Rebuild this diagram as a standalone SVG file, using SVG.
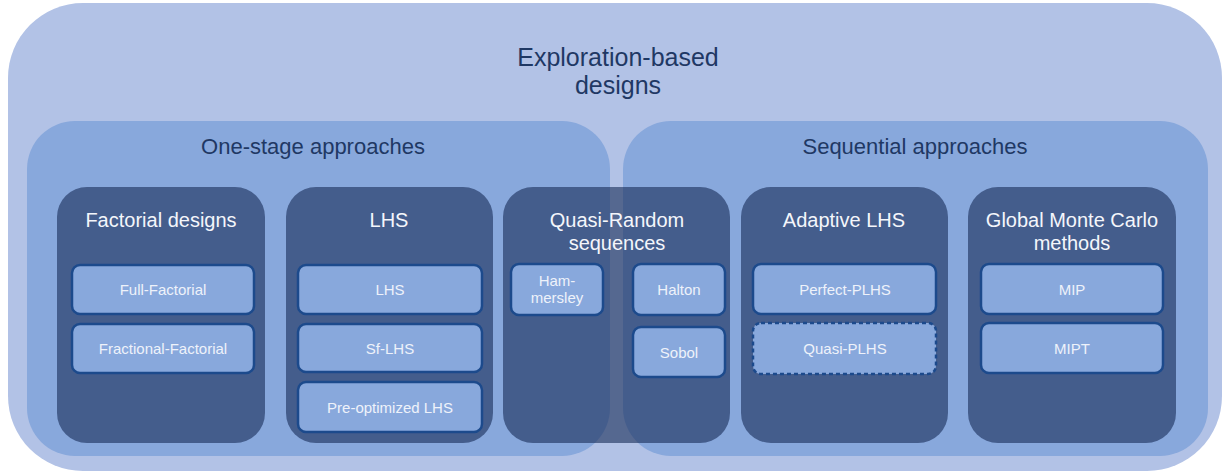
<svg xmlns="http://www.w3.org/2000/svg" width="1225" height="476" viewBox="0 0 1225 476">
  <style>
    text { font-family: "Liberation Sans", Arial, sans-serif; text-anchor: middle; }
    .outer { fill: #b2c2e6; }
    .stage { fill: #88a8dc; }
    .group { fill: #182b57; fill-opacity: 0.6; }
    .item { fill: #88a8dc; stroke: #1c4a8c; stroke-width: 2.5; }
    .dashed { stroke-dasharray: 4 3; }
    .t-main { font-size: 25px; fill: #1f3864; }
    .t-stage { font-size: 22px; fill: #1f3864; }
    .t-group { font-size: 20px; fill: #f4f6fb; }
    .t-item { font-size: 15px; fill: #eef2fa; }
  </style>

  <!-- outermost container -->
  <g id="exploration">
    <rect class="outer" x="8" y="3" width="1214" height="468" rx="75"/>
    <text class="t-main" x="618" y="66">Exploration-based</text>
    <text class="t-main" x="618" y="94">designs</text>
  </g>

  <!-- approach families -->
  <g id="one-stage">
    <rect class="stage" x="27" y="121" width="583" height="335" rx="48"/>
    <text class="t-stage" x="313" y="154">One-stage approaches</text>
  </g>
  <g id="sequential">
    <rect class="stage" x="623" y="121" width="585" height="335" rx="48"/>
    <text class="t-stage" x="915" y="154">Sequential approaches</text>
  </g>

  <!-- method groups -->
  <g id="factorial">
    <rect class="group" x="57" y="187" width="208" height="256" rx="30"/>
    <text class="t-group" x="161" y="227">Factorial designs</text>
    <g id="full-factorial">
      <rect class="item" x="72" y="265" width="182" height="49" rx="8"/>
      <text class="t-item" x="163" y="295">Full-Factorial</text>
    </g>
    <g id="fractional-factorial">
      <rect class="item" x="72" y="324" width="182" height="49" rx="8"/>
      <text class="t-item" x="163" y="354">Fractional-Factorial</text>
    </g>
  </g>

  <g id="lhs">
    <rect class="group" x="286" y="187" width="207" height="256" rx="30"/>
    <text class="t-group" x="389" y="227">LHS</text>
    <g id="lhs-basic">
      <rect class="item" x="298" y="265" width="184" height="49" rx="8"/>
      <text class="t-item" x="390" y="295">LHS</text>
    </g>
    <g id="sf-lhs">
      <rect class="item" x="298" y="324" width="184" height="48" rx="8"/>
      <text class="t-item" x="390" y="354">Sf-LHS</text>
    </g>
    <g id="pre-optimized-lhs">
      <rect class="item" x="298" y="382" width="184" height="50" rx="8"/>
      <text class="t-item" x="390" y="413">Pre-optimized LHS</text>
    </g>
  </g>

  <g id="quasi-random">
    <rect class="group" x="503" y="187" width="227" height="256" rx="30"/>
    <text class="t-group" x="617" y="227">Quasi-Random</text>
    <text class="t-group" x="617" y="250">sequences</text>
    <g id="hammersley">
      <rect class="item" x="511" y="264" width="92" height="51" rx="8"/>
      <text class="t-item" x="557" y="286">Ham-</text>
      <text class="t-item" x="557" y="303">mersley</text>
    </g>
    <g id="halton">
      <rect class="item" x="633" y="264" width="92" height="51" rx="8"/>
      <text class="t-item" x="679" y="295">Halton</text>
    </g>
    <g id="sobol">
      <rect class="item" x="633" y="327" width="92" height="50" rx="8"/>
      <text class="t-item" x="679" y="358">Sobol</text>
    </g>
  </g>

  <g id="adaptive-lhs">
    <rect class="group" x="741" y="187" width="207" height="256" rx="30"/>
    <text class="t-group" x="844" y="227">Adaptive LHS</text>
    <g id="perfect-plhs">
      <rect class="item" x="753" y="264" width="183" height="50" rx="8"/>
      <text class="t-item" x="845" y="295">Perfect-PLHS</text>
    </g>
    <g id="quasi-plhs">
      <rect class="item dashed" x="753" y="323" width="183" height="51" rx="8"/>
      <text class="t-item" x="845" y="354">Quasi-PLHS</text>
    </g>
  </g>

  <g id="global-monte-carlo">
    <rect class="group" x="968" y="187" width="208" height="256" rx="30"/>
    <text class="t-group" x="1072" y="227">Global Monte Carlo</text>
    <text class="t-group" x="1072" y="250">methods</text>
    <g id="mip">
      <rect class="item" x="981" y="264" width="182" height="50" rx="8"/>
      <text class="t-item" x="1072" y="295">MIP</text>
    </g>
    <g id="mipt">
      <rect class="item" x="981" y="323" width="182" height="50" rx="8"/>
      <text class="t-item" x="1072" y="354">MIPT</text>
    </g>
  </g>
</svg>
